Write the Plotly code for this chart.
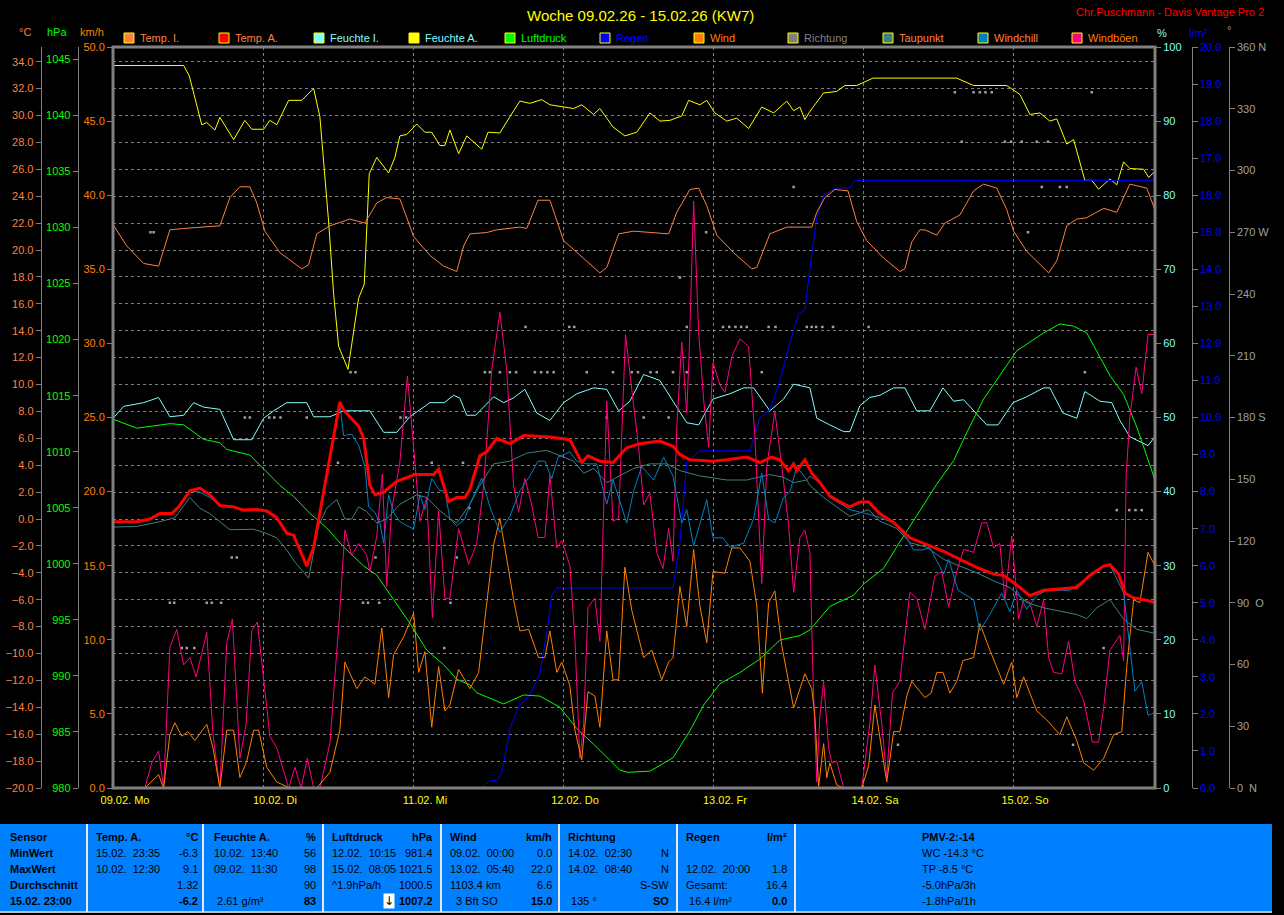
import plotly.graph_objects as go

# ---------------- data (hours since 09.02. 00:00, value) ----------------
temp_i = [(0,21.9),(2.2,20.3),(4.9,19.0),(7.3,18.8),(9.1,21.5),(11.3,21.6),(17.1,21.8),(18.7,23.9),(20.3,24.7),(21.9,24.7),(23,23.5),(24.3,21.4),(26.7,19.8),(30.2,18.6),(31.3,18.9),(32.6,21.2),(34.7,21.8),(37.9,22.3),(40.3,22),(42.2,23.5),(43.8,23.9),(45.9,23.8),(48.1,21),(50.7,19.6),(52.9,18.8),(55,18.4),(56.1,20.3),(57.1,21.2),(59.8,21.3),(61.4,21.5),(65.1,21.7),(66.2,21.6),(68,23.7),(69.9,23.7),(72.1,20.7),(75.3,19.4),(77.9,18.3),(79,18.7),(80.9,21.2),(83.3,21.4),(88.9,21.2),(90.2,22.8),(92.3,24.5),(93.7,24.6),(95,23.3),(96.6,21.1),(99.3,19.8),(102.2,18.6),(103,18.7),(105.1,21.2),(107.8,21.7),(111.8,21.7),(112.6,22.8),(113.9,23.9),(115.5,24.5),(117.6,24.4),(119,22.1),(120.6,20.7),(123.3,19.4),(125.9,18.4),(126.7,18.6),(127.8,20.6),(129.1,21.5),(129.9,21.5),(131.8,21.1),(133.1,22),(135.5,22.6),(137.7,24.4),(139.3,24.9),(141.4,24.6),(143,23),(144.1,21.4),(146.2,19.9),(149.7,18.3),(151,19.2),(152.6,21.8),(154.2,22.3),(155.8,22.4),(158.5,23.1),(160.6,22.8),(162.7,24.9),(165.4,24.6),(166.7,23)]

temp_a = [(0,-0.2),(3.8,-0.2),(5.9,0),(7.5,0.4),(9.4,0.4),(10.5,0.9),(12.3,2.1),(13.9,2.3),(15.5,1.8),(17.1,1),(19.3,0.9),(20.9,0.66),(23,0.7),(24.6,0.6),(26.2,0.1),(27.8,-1.05),(28.9,-1.2),(31,-3.5),(32.1,-2.1),(33.7,2.1),(36.3,8.7),(36.9,8.1),(39.3,6.9),(40.1,6),(41.1,2.5),(41.9,1.8),(43.3,2),(45.4,2.8),(46,2.9),(48.3,3.3),(51.3,3.3),(52.1,3.7),(53.7,1.3),(55,1.6),(56.3,1.6),(57.1,2.2),(58.7,4.7),(59.8,5),(61.4,6),(63.5,5.6),(65.7,6.2),(69.9,6.1),(73.1,5.9),(75,4.2),(76,4.7),(77.9,4.3),(80,4.2),(82.2,5.3),(84.3,5.6),(87.5,5.8),(89.6,5.4),(90.7,4.8),(92.3,4.4),(96,4.3),(98.2,4.4),(101.4,4.6),(103.5,4.2),(105.4,4.6),(106.7,4.4),(108.1,3.6),(108.9,4.1),(109.4,3.6),(110.7,4.4),(111.8,3.4),(113.1,2.7),(114.7,1.7),(116.3,1.27),(117.9,0.9),(119.5,1.27),(120.9,1.27),(122.7,0.38),(124.9,-0.26),(127.5,-1.4),(130.2,-1.9),(132.9,-2.4),(135.5,-3),(138.2,-3.6),(140.9,-4.1),(142.5,-4.2),(144.6,-4.9),(146.7,-5.7),(148.9,-5.3),(152,-5.2),(154.2,-5.1),(156.3,-4.2),(158.5,-3.5),(159.5,-3.4),(160.9,-4.1),(161.9,-5.5),(163.2,-5.85),(164.9,-6),(166.7,-6.2)]

taupunkt = [(0,-0.6),(3.8,-0.55),(7.5,-0.2),(9.9,0.1),(12.3,1.6),(13.9,0.8),(15.5,0.4),(18.7,-0.8),(22.5,-0.76),(24.1,-1),(26.2,-1.4),(27.8,-2.3),(29.1,-3.2),(31.3,-4.4),(32.9,-0.5),(34.2,0.8),(35.8,1.45),(37.1,0),(38.2,0),(39.3,0.9),(40.6,0.55),(42.2,-0.3),(43.8,0),(45.9,1.1),(48.6,1.8),(50.2,1.6),(52.1,0.7),(53.4,0.2),(55,-0.3),(57.1,1.1),(58.7,2.5),(60.9,4.1),(63.5,4.3),(66.2,4.9),(69.4,5.1),(71.5,4.7),(73.7,4.3),(75.3,3.4),(76.9,3.76),(79,2.7),(81.1,3.2),(83.3,3.76),(85.9,4.1),(88.6,4.1),(90.7,3.6),(93.9,3.2),(98.2,2.9),(101.4,2.9),(105.1,3.3),(107.3,3.1),(108.9,2.7),(111,2.9),(111.5,2.5),(113.7,1.6),(115.8,0.9),(117.9,0.2),(120.9,0.7),(122.7,-0.16),(125.4,-0.7),(127.5,-1.76),(130.2,-2.1),(132.9,-3),(135.5,-3.5),(138.2,-4),(140.9,-4.6),(143.5,-5.1),(146.2,-6.2),(148.9,-6.6),(152,-6.9),(154.2,-7.1),(155.8,-7.4),(157.4,-6.6),(159.5,-6),(161.7,-7.45),(163.8,-8.2),(166.7,-8.5)]

windchill = [(0,-0.2),(3.8,-0.2),(5.9,0),(7.5,0.4),(9.4,0.4),(10.5,0.9),(12.3,2.1),(13.9,2.0),(15.5,1.6),(17.1,1),(19.3,0.9),(20.9,0.66),(23,0.7),(24.6,0.6),(26.2,0.1),(27.8,-1.05),(28.9,-1.2),(31,-3.5),(32.1,-2.1),(33.7,2.1),(36.3,8.5),(36.9,6.2),(38.2,6.3),(39.3,5.5),(40.3,3.9),(40.9,0.9),(41.9,0.5),(42.7,-0.3),(43.3,-1.8),(44.1,1.8),(44.9,0.5),(45.9,-0.2),(48.1,-0.76),(49.1,1.8),(49.9,0.7),(51,3),(52.3,2.1),(53.1,2.1),(53.9,0),(55,-0.5),(56.3,0),(57.1,1.1),(59,3.04),(60.3,0.9),(61.9,-1),(63.5,0.2),(65.1,2.1),(66.7,3.2),(68,4.3),(69.1,4.3),(70.2,3),(71.2,4.6),(73.1,5),(74.2,4.3),(75.8,4.1),(77.4,4.1),(79,1.1),(80,2.9),(82.2,-0.3),(83.3,2.1),(84.6,3.9),(86.5,2.9),(88.1,4.6),(89.6,3.2),(91,-0.3),(91.8,0.7),(92.9,-2),(95,1.45),(96,-1.4),(97.6,-1.4),(98.7,-2.1),(100.9,-1.8),(102.5,0),(103.8,3.4),(104.9,0),(105.9,-0.3),(107.3,1.6),(108.3,2),(109.4,3.9),(111,2.9),(111.5,3.2),(113.1,2.7),(114.7,1.6),(117.9,0.7),(122.2,0.2),(124.9,-0.3),(127,-1.4),(128.1,-2.3),(129.6,-2.3),(130.7,-2.1),(132.9,-4.1),(133.7,-3.0),(135.2,-5.3),(137.7,-6),(138.7,-8.3),(140.3,-7.1),(142.2,-5.5),(143.5,-6.9),(144.6,-5.3),(146.2,-6.7),(147.8,-5.7),(149.4,-5.3),(153.1,-5.3),(156.3,-4.2),(158.5,-3.5),(159.5,-3.4),(161.7,-5.5),(163.5,-12.8),(164.6,-12.1),(165.6,-14.6),(166.7,-14.4)]

feuchte_i = [(0,49.9),(1.7,51.5),(4.9,52),(7.3,52.7),(9.1,50.1),(11.3,50.3),(12.9,52),(14.5,51.4),(17.1,51.1),(19.3,47),(22.2,47),(24.1,49.9),(25.7,50.9),(27.8,52),(31,52),(32.1,50.1),(34.7,50.1),(36.9,50.9),(41.1,50.9),(43.3,48),(45.4,48),(47.5,50.1),(50.7,52),(53,52),(54.5,53),(55.5,52.6),(56.6,50.3),(58,50.3),(60.9,52.8),(62.5,52),(64,52.6),(65.9,53.8),(67.8,50.6),(69.9,49.6),(72.1,52),(74.2,53.2),(76.9,54),(79,53.8),(80.9,50.9),(82.7,52.2),(84.9,55.8),(87.5,55),(89.6,52.2),(91.8,49.3),(93.7,49),(96,52.5),(98.7,53.2),(100.9,54),(102.5,54),(105.1,50.9),(107.3,52.5),(108.9,54.5),(111.5,54),(112.6,49.9),(114.7,49),(116.9,48.1),(117.9,48.1),(119.5,51.6),(121.1,52.7),(122.7,53),(124.9,54),(126.7,54),(128.6,50.9),(130.7,50.9),(132.8,54),(134.5,52.2),(136.1,52.4),(139.8,49),(141.6,49),(144,52),(146.2,52.8),(148.9,54),(149.9,54),(152,50.6),(154.2,49.9),(155.5,53.5),(157.9,52.2),(159.8,52),(161.1,49.6),(162.7,47.4),(165.6,46.2),(166.7,47.4)]

feuchte_a = [(0,97.5),(11.3,97.5),(12.2,96.1),(14.2,89.5),(15,89.8),(16.3,88.8),(17.1,90.5),(19.3,87.5),(21.1,90.1),(22.2,88.9),(24.1,88.9),(25.1,90.1),(26.2,89.5),(28.1,92.8),(30.2,92.8),(32.1,94.4),(33.1,90.6),(34.5,76.4),(35.3,66.7),(36.1,59.6),(37.6,56.5),(38.2,60),(39.3,66.1),(40.2,68),(41,82.9),(42.2,85.1),(44.1,83),(45.1,85.1),(45.9,88),(47,88.2),(48.6,89.6),(49.9,88.5),(51,88.5),(52.3,86.7),(53.1,86.7),(53.9,88.8),(55.3,85.6),(56.6,88),(59,86.2),(60,88.5),(61.9,88.4),(63.5,90.6),(65.1,92.7),(66.7,92.4),(68.6,92.9),(69.9,92.2),(71.5,92),(73.7,91.7),(75,92.2),(76.9,90.9),(77.9,91.7),(80,89.2),(81.9,88),(83.8,88.5),(85.9,91.1),(87.5,90),(89.1,90.1),(91,90.7),(92.1,92.8),(93.9,92.2),(95,92.8),(96.3,91.1),(98.2,90),(99.8,90.4),(101.7,89),(103.8,91.9),(105.7,91.1),(107.8,92.7),(108.9,91.4),(109.9,91.9),(110.7,90.2),(111.5,91.3),(113.7,93.8),(115.8,94),(117.1,94.8),(119,94.8),(121.6,95.8),(135,95.8),(137.7,94.8),(143,94.8),(145.1,93.6),(146.7,90.9),(148.3,91.1),(149.9,90),(151,90.3),(152.6,86.9),(153.7,87.5),(155.5,82),(156.6,82),(157.7,80.8),(159.5,82.2),(160.6,81.4),(161.7,84.5),(162.7,83.6),(164.9,83.5),(165.7,82.4),(166.7,83.2)]

luftdruck = [(0,1012.9),(3.8,1012.1),(6.5,1012.3),(9.1,1012.5),(11.3,1012.4),(14.5,1011.1),(17.1,1010.8),(18.2,1010.2),(21.9,1009.7),(24.1,1008.5),(26.7,1007),(28.9,1006),(31.5,1004.5),(34.2,1003.2),(36.9,1001.5),(40.1,999.8),(42.2,999),(44.9,996.8),(47.5,994.7),(50.2,992.3),(52.9,991),(55,989.7),(57.1,989.2),(58.2,988.5),(62.5,987.5),(65.7,988.3),(68.3,988.2),(71.5,987.2),(74.2,985.3),(76.9,983.9),(81.1,981.6),(82.3,981.4),(85.9,981.5),(89.6,982.7),(92.3,985.1),(94.5,987.4),(97.1,989.3),(100.3,990.3),(103.5,991.5),(106.7,993.2),(109.9,993.6),(111.5,994.1),(113.1,995.1),(114.7,996.2),(118.5,997.2),(120.1,998.2),(123.3,999.6),(125.6,1001.7),(128.6,1004.3),(131.8,1007.1),(134.5,1009.2),(136.6,1011.7),(139.3,1014.7),(141.9,1016.8),(144.6,1019),(148.9,1020.6),(151.5,1021.4),(153.7,1021.2),(155.8,1020.6),(159.5,1016.8),(161.7,1015.1),(163.8,1012.2),(166.7,1007.5)]

regen = [(59,0),(60.3,0.2),(61.4,0.2),(62.2,0.4),(63.5,1.6),(64.9,2.2),(66.7,2.5),(68.3,3.1),(69.4,4.2),(70.2,5.2),(71,5.4),(89.6,5.4),(90.7,6.6),(91.8,8.8),(93.9,9.1),(101.9,9.1),(103.5,10),(105.1,10.2),(106.7,11),(108.1,11.9),(109.7,12.8),(110.7,12.9),(111.5,14),(112.6,15.4),(113.7,16),(115.8,16.2),(117.9,16.2),(118.7,16.4),(166.7,16.4)]

wind = [(0,0),(5.1,0),(7.3,0.9),(8.1,0),(9.1,3.6),(9.9,4.4),(11,3.5),(12,3.8),(13.1,3.2),(15,4.3),(16,2.7),(17.1,0),(18.2,3.9),(19.3,3.9),(20.3,0.7),(21.4,1.8),(22.5,3.9),(23.3,3.9),(24.6,1.4),(26.2,0.4),(28.3,0),(32.6,0),(34.7,1.05),(36.3,3.9),(37.1,8.5),(39,6.7),(40.3,7.5),(41.9,7),(43,10.8),(44.1,6.1),(44.9,9),(46.5,10.2),(48.1,11.8),(48.9,7.8),(49.9,9.2),(51,4.1),(52.1,8.2),(53.1,5.2),(53.9,5.6),(55.3,8),(57.1,6.7),(58.5,7.8),(59.5,11.4),(60.9,16.4),(61.9,18.2),(64.1,12.7),(65.1,10.6),(66.5,10.7),(68.1,8.8),(69.1,8.8),(69.9,10.6),(71,7.8),(71.8,8.5),(73.1,6.9),(73.9,3.9),(75,1.9),(76,6.5),(77.1,6.2),(77.9,4.1),(79,10.6),(80,7.3),(80.9,7.3),(81.9,14.9),(83,12),(84.9,8.8),(86.2,9.3),(87.8,7.3),(88.9,8.5),(89.6,8.8),(90.7,13.6),(91.8,10.9),(92.9,16.1),(93.9,12.3),(95,9.8),(96,14.6),(97.9,14.5),(99,16.2),(100.3,16.2),(101.9,15.3),(103,12.3),(103.9,6.4),(104.9,12.5),(105.9,13.3),(107,9.6),(108.9,5.4),(110.7,7.7),(111.8,6.7),(112.3,4.9),(112.9,0.1),(113.7,3),(114.2,0.7),(114.7,1.7),(115.8,0.2),(116.9,0),(119.8,0),(120.9,1.5),(121.9,5.6),(123,2.7),(123.8,0.4),(124.9,3.8),(125.9,3.8),(127,6.2),(127.8,7.2),(129.9,6.1),(130.9,6.4),(131.8,7.8),(132.8,7.8),(133.9,6.4),(135,7.2),(136,8.6),(137.7,8.8),(138.7,11.1),(140.3,9.3),(142.5,7),(143.8,8.5),(144.6,6.1),(145.7,7.5),(147.8,5.2),(149.4,4.6),(151.5,3.6),(152.6,4.8),(154.2,3.2),(155.3,1.7),(156.9,1.2),(158.5,2),(160.1,3.6),(161.4,3.8),(162.2,8.2),(163.3,12.7),(164.3,12.5),(165.6,15.9),(166.7,15.0)]

windboeen = [(0,0),(5.1,0),(6.2,1.7),(7.3,2.5),(8.1,0),(9.1,9.5),(10.2,10.7),(11.3,8.3),(12.3,8.8),(13.3,7.5),(15,10.5),(16,3.6),(17.1,0),(18.2,9.8),(19.1,11.4),(20.3,2),(21.3,4.3),(22.2,10.6),(23.1,11.2),(24.1,7.2),(25.1,3.5),(26.2,2.7),(28.1,0),(29.1,1.4),(30.1,0),(31.1,2),(32.1,0),(33.1,0),(34.7,3),(36.3,12),(37.1,17.4),(38.2,15.7),(39.3,16.5),(40.6,15.7),(41.1,14.6),(42.2,17),(43.1,21.2),(43.8,13.6),(44.6,18.8),(45.9,22),(47.1,27.8),(48.3,22),(49.1,18),(50.2,19.6),(51.1,11.5),(52.1,18.7),(53.1,12.8),(53.9,12.8),(55.3,17.5),(56.9,15.1),(58.2,16.5),(59.3,20.4),(60.6,28.2),(61.9,32.1),(63,28.2),(64.1,20.4),(64.9,18.6),(65.9,20.9),(67,19.1),(68,16.9),(69.1,16.9),(69.9,21.1),(71,16.2),(71.8,16.7),(73.1,15),(73.9,10.1),(74.7,2),(75.3,4.3),(76,12.2),(77.1,12.8),(77.9,9.9),(79,26.1),(80,18),(80.9,18.2),(82,30.6),(83,26.9),(84.1,23),(84.9,19.1),(85.9,19.9),(87,15.9),(88,14.8),(88.9,17.5),(89.6,15.3),(90.2,24.3),(91,30.1),(91.8,25.3),(92.2,29.5),(92.9,39.6),(93.7,30.8),(94.5,26.2),(95.3,23),(96,28.7),(97.1,27.2),(97.9,26.7),(99,29.1),(100.3,30.3),(101.7,29.8),(102.7,23.7),(103.8,13.8),(104.6,21.7),(105.9,25.4),(107,21.7),(108.1,17.7),(108.9,13.2),(109.9,16.9),(110.7,17.4),(111.5,15.9),(112,7.5),(112.6,0.4),(113.1,4.9),(113.7,7.2),(114.5,2.7),(115,1.7),(115.8,1.8),(116.9,0),(119.8,0),(121.1,4.4),(121.9,8.3),(123,4.3),(123.8,0.7),(124.7,6.4),(125.9,7.2),(127.5,13.2),(128.6,12.8),(129.9,10.7),(131.5,14.3),(132.6,14.6),(133.7,12.2),(135,14.6),(136.1,16.1),(137.7,15.9),(139,17.9),(139.8,17.9),(140.9,16.2),(141.9,16.5),(142.7,12.7),(143.8,17),(144.9,11.4),(145.7,12.7),(146.7,12.5),(147.8,10.9),(148.9,12.7),(149.7,8.8),(150.5,7.8),(151.8,7.7),(152.9,9.9),(153.9,7.2),(155.3,5.9),(156.7,3.1),(157.7,3.1),(158.5,5.4),(159.5,9.3),(161.1,10.3),(161.7,8.6),(162.1,21.1),(162.7,25),(163.7,28.4),(164.6,26.6),(165.6,30.6),(166.7,30.6)]

richtung = [(6,270),(6.5,270),(9.1,90),(9.8,90),(11,68),(11.8,68),(13,68),(15,90),(15.8,90),(17.3,90),(19,112),(19.8,112),(21.1,180),(21.9,180),(25,180),(25.8,180),(26.8,180),(31,180),(36,158),(38,202),(38.8,202),(40,90),(40.8,90),(42.6,90),(42,112),(46,180),(46.9,180),(51,158),(53,68),(54,90),(55,112),(56,158),(57,136),(59.5,202),(60.3,202),(61.9,202),(63.5,202),(64.5,202),(66,224),(67.5,202),(68.5,202),(69.5,202),(70.5,202),(73,224),(73.8,224),(75.8,202),(79,180),(80,202),(83,202),(84,202),(84.9,180),(86,202),(87,202),(88.9,180),(89.6,202),(90.7,248),(91.8,202),(91.8,224),(94.9,270),(97.6,224),(98.6,224),(99.6,224),(100.5,224),(101.4,224),(103.8,202),(104.9,224),(106,224),(108.9,292),(111,224),(111.8,224),(112.5,224),(113.5,224),(115.2,224),(120.9,224),(125.6,21),(134.7,338),(135.8,314),(137.7,338),(138.7,338),(139.6,338),(140.6,338),(142.7,314),(143.7,314),(145.4,314),(146.4,270),(147.8,314),(148.6,292),(149.6,314),(151.5,292),(152.6,292),(153.6,21),(155.5,202),(156.6,338),(158.5,68),(160.6,135),(162.6,135),(163.6,135),(164.6,135)]

day_ticks = [0, 24, 48, 72, 96, 120, 144]
day_labels = ["09.02. Mo", "10.02. Di", "11.02. Mi", "12.02. Do", "13.02. Fr", "14.02. Sa", "15.02. So"]
dir_ticks = [0, 30, 60, 90, 120, 150, 180, 210, 240, 270, 300, 330, 360]
dir_labels = ["0  N", "30", "60", "90  O", "120", "150", "180 S", "210", "240", "270 W", "300", "330", "360 N"]

# ---------------- figure ----------------
W, H = 1284, 915
FONT = "Liberation Sans"
def px(x): return x / W
def py(y): return 1 - y / H

def xy(series):
    return [p[0] for p in series], [p[1] for p in series]

fig = go.Figure()
def add(series, name, color, axis, width=1, mode="lines"):
    x, y = xy(series)
    if mode == "lines":
        fig.add_trace(go.Scatter(x=x, y=y, name=name, yaxis=axis, mode="lines",
                                 line=dict(color=color, width=width), hoverinfo="skip"))
    else:
        fig.add_trace(go.Scatter(x=x, y=y, name=name, yaxis=axis, mode="markers",
                                 marker=dict(color=color, size=2.5, symbol="square"), hoverinfo="skip"))

add(richtung, "Richtung", "#A0A0A0", "y", mode="markers")
add(feuchte_i, "Feuchte I.", "#80FFFF", "y2")
add(feuchte_a, "Feuchte A.", "#FFFF00", "y2")
add(regen, "Regen", "#0000FF", "y3")
add(luftdruck, "Luftdruck", "#00FF00", "y4")
add(windboeen, "Windböen", "#FF0080", "y5")
add(wind, "Wind", "#FF8000", "y5")
add(temp_i, "Temp. I.", "#FF8040", "y6")
add(taupunkt, "Taupunkt", "#408080", "y6")
add(windchill, "Windchill", "#0080C0", "y6")
add(temp_a, "Temp. A.", "#FF0000", "y6", width=3)

xd = [px(113), px(1155)]
yd = [1 - 788 / H, 1 - 47 / H]
tf = dict(family=FONT, size=11)
common = dict(domain=yd, showgrid=False, zeroline=False, automargin=False, showline=True,
              linecolor="#808080", linewidth=1, ticks="outside", ticklen=5, tickcolor="#808080")

fig.update_layout(
    width=W, height=H, template="none",
    paper_bgcolor="black", plot_bgcolor="black",
    margin=dict(l=0, r=0, t=0, b=0), showlegend=False,
    xaxis=dict(domain=xd, range=[0, 166.72], tickvals=day_ticks, ticktext=day_labels,
               showgrid=True, gridcolor="#808080", griddash="3px,3px", gridwidth=1,
               zeroline=False, automargin=False, showline=False, ticks="",
               ticklabelshift=12, ticklabelstandoff=4,
               tickfont=dict(family=FONT, size=11, color="#FFFF00")),
    yaxis=dict(common, range=[0, 360], anchor="free", overlaying=None, side="right",
               position=px(1228.7), tickvals=dir_ticks, ticktext=dir_labels,
               tickfont=dict(tf, color="#A0A0A0")),
    yaxis2=dict(common, range=[0, 100], anchor="x", overlaying="y", side="right", dtick=10,
                tickfont=dict(tf, color="#80FFFF")),
    yaxis3=dict(common, range=[0, 20], anchor="free", overlaying="y", side="right",
                position=px(1191.7), dtick=1, tickformat=".1f", tickfont=dict(tf, color="#0000FF")),
    yaxis4=dict(common, range=[980, 980 + 741 / 11.21], anchor="free", overlaying="y", side="left",
                position=px(77.7), dtick=5, tickfont=dict(tf, color="#00FF00")),
    yaxis5=dict(common, range=[0, 50], anchor="x", overlaying="y", side="left", dtick=5,
                tickformat=".1f", tickfont=dict(tf, color="#FF8000")),
    yaxis6=dict(common, range=[-20, -20 + 741 / 13.45], anchor="free", overlaying="y", side="left",
                position=px(40.7), dtick=2, tick0=0, tickformat=".1f",
                showgrid=True, gridcolor="#808080", griddash="3px,3px", gridwidth=1,
                tickfont=dict(tf, color="#FF8040")),
)

shapes = []
annotations = []
# plot frame
shapes.append(dict(type="rect", xref="paper", yref="paper", x0=xd[0], x1=xd[1], y0=yd[0], y1=yd[1],
                   line=dict(color="#808080", width=3), layer="above"))

def text(x, y, s, color, size=11, anchor="left", bold=False, bg=None, family=FONT):
    annotations.append(dict(xref="paper", yref="paper", x=px(x), y=py(y), text=("<b>%s</b>" % s) if bold else s,
                            showarrow=False, xanchor=anchor, yanchor="middle",
                            font=dict(family=family, size=size, color=color),
                            bgcolor=bg, borderpad=0))

# titles
text(640, 15, "Woche 09.02.26 - 15.02.26 (KW7)", "#FFFF00", size=15, anchor="center")
text(1265, 12, "Chr.Puschmann - Davis Vantage Pro 2", "#FF0000", size=11, anchor="right")
# unit labels
text(25, 32, "°C", "#FF8040", anchor="center")
text(57, 32, "hPa", "#00FF00", anchor="center")
text(92, 32, "km/h", "#FF8000", anchor="center")
text(1156, 33, "%", "#80FFFF", anchor="left")
text(1188, 33, "l/m²", "#0000FF", anchor="left")
text(1226, 30, "°", "#A0A0A0", anchor="left")

# legend
legend_items = [(124, "Temp. I.", "#FF8040", "#FF8040"), (219, "Temp. A.", "#FF0000", "#FF8040"),
                (314, "Feuchte I.", "#80FFFF", "#80FFFF"), (409, "Feuchte A.", "#FFFF00", "#80FFFF"),
                (505, "Luftdruck", "#00FF00", "#00FF00"), (600, "Regen", "#0000FF", "#0000FF"),
                (694, "Wind", "#FF8000", "#FF8000"), (788, "Richtung", "#808080", "#808080"),
                (883, "Taupunkt", "#408080", "#FF8040"), (978, "Windchill", "#0080C0", "#FF8040"),
                (1072, "Windböen", "#FF0080", "#FF8000")]
for lx, lab, sq, tc in legend_items:
    shapes.append(dict(type="rect", xref="paper", yref="paper", x0=px(lx), x1=px(lx + 10),
                       y0=py(43), y1=py(33), fillcolor=sq, line=dict(color="#FFFF00", width=1)))
    text(lx + 15, 38, lab, tc)

# info panel
shapes.append(dict(type="rect", xref="paper", yref="paper", x0=0, x1=px(1272), y0=py(912), y1=py(824),
                   fillcolor="#0080FF", line=dict(width=0), layer="below"))
shapes.append(dict(type="line", xref="paper", yref="paper", x0=0, x1=px(1272), y0=py(912), y1=py(912),
                   line=dict(color="#C0C0C0", width=2)))
for sx in [87, 203, 323, 441, 559, 677, 795]:
    shapes.append(dict(type="line", xref="paper", yref="paper", x0=px(sx), x1=px(sx), y0=py(912), y1=py(824),
                       line=dict(color="#E8E8E8", width=2)))

rows = [837, 853, 869, 885, 901]
K = "#000000"
col1 = ["Sensor", "MinWert", "MaxWert", "Durchschnitt", "15.02. 23:00"]
for r, s in zip(rows, col1):
    text(9, r, s, K, bold=True)

panel_cols = [
    (95, 199, "Temp. A.", "°C", [("15.02.  23:35", "-6.3"), ("10.02.  12:30", "9.1"), ("", "1.32"), ("", "-6.2")]),
    (213, 317, "Feuchte A.", "%", [("10.02.  13:40", "56"), ("09.02.  11:30", "98"), ("", "90"), (" 2.61 g/m³", "83")]),
    (331, 434, "Luftdruck", "hPa", [("12.02.  10:15", "981.4"), ("15.02.  08:05", "1021.5"), ("^1.9hPa/h", "1000.5"), ("", "1007.2")]),
    (449, 553, "Wind", "km/h", [("09.02.  00:00", "0.0"), ("13.02.  05:40", "22.0"), ("1103.4 km", "6.6"), ("  3 Bft SO", "15.0")]),
    (567, 670, "Richtung", "", [("14.02.  02:30", "N"), ("14.02.  08:40", "N"), ("", "S-SW"), (" 135 °", "SO")]),
    (685, 788, "Regen", "l/m²", [("", ""), ("12.02.  20:00", "1.8"), ("Gesamt:", "16.4"), (" 16.4 l/m²", "0.0")]),
]
for lx, rx, head, unit, vals in panel_cols:
    text(lx, rows[0], head, K, bold=True)
    if unit:
        text(rx, rows[0], unit, K, bold=True, anchor="right")
    for i, (lt, rt) in enumerate(vals):
        last = (i == 3)
        if lt:
            text(lx, rows[i + 1], lt, K)
        if rt:
            text(rx, rows[i + 1], rt, K, bold=last, anchor="right")
text(389, rows[4], "↓", K, size=12, anchor="center", bg="#FFFFFF", family="DejaVu Sans")

pmv = ["PMV-2:-14", "WC -14.3 °C", "TP -8.5 °C", "-5.0hPa/3h", "-1.8hPa/1h"]
for i, s in enumerate(pmv):
    text(921, rows[i], s, K, bold=(i == 0))

fig.update_layout(shapes=shapes, annotations=annotations)

fig.write_html("out.html", config={"displayModeBar": False},
               post_script="document.body.style.margin='0';document.body.style.overflow='hidden';")
